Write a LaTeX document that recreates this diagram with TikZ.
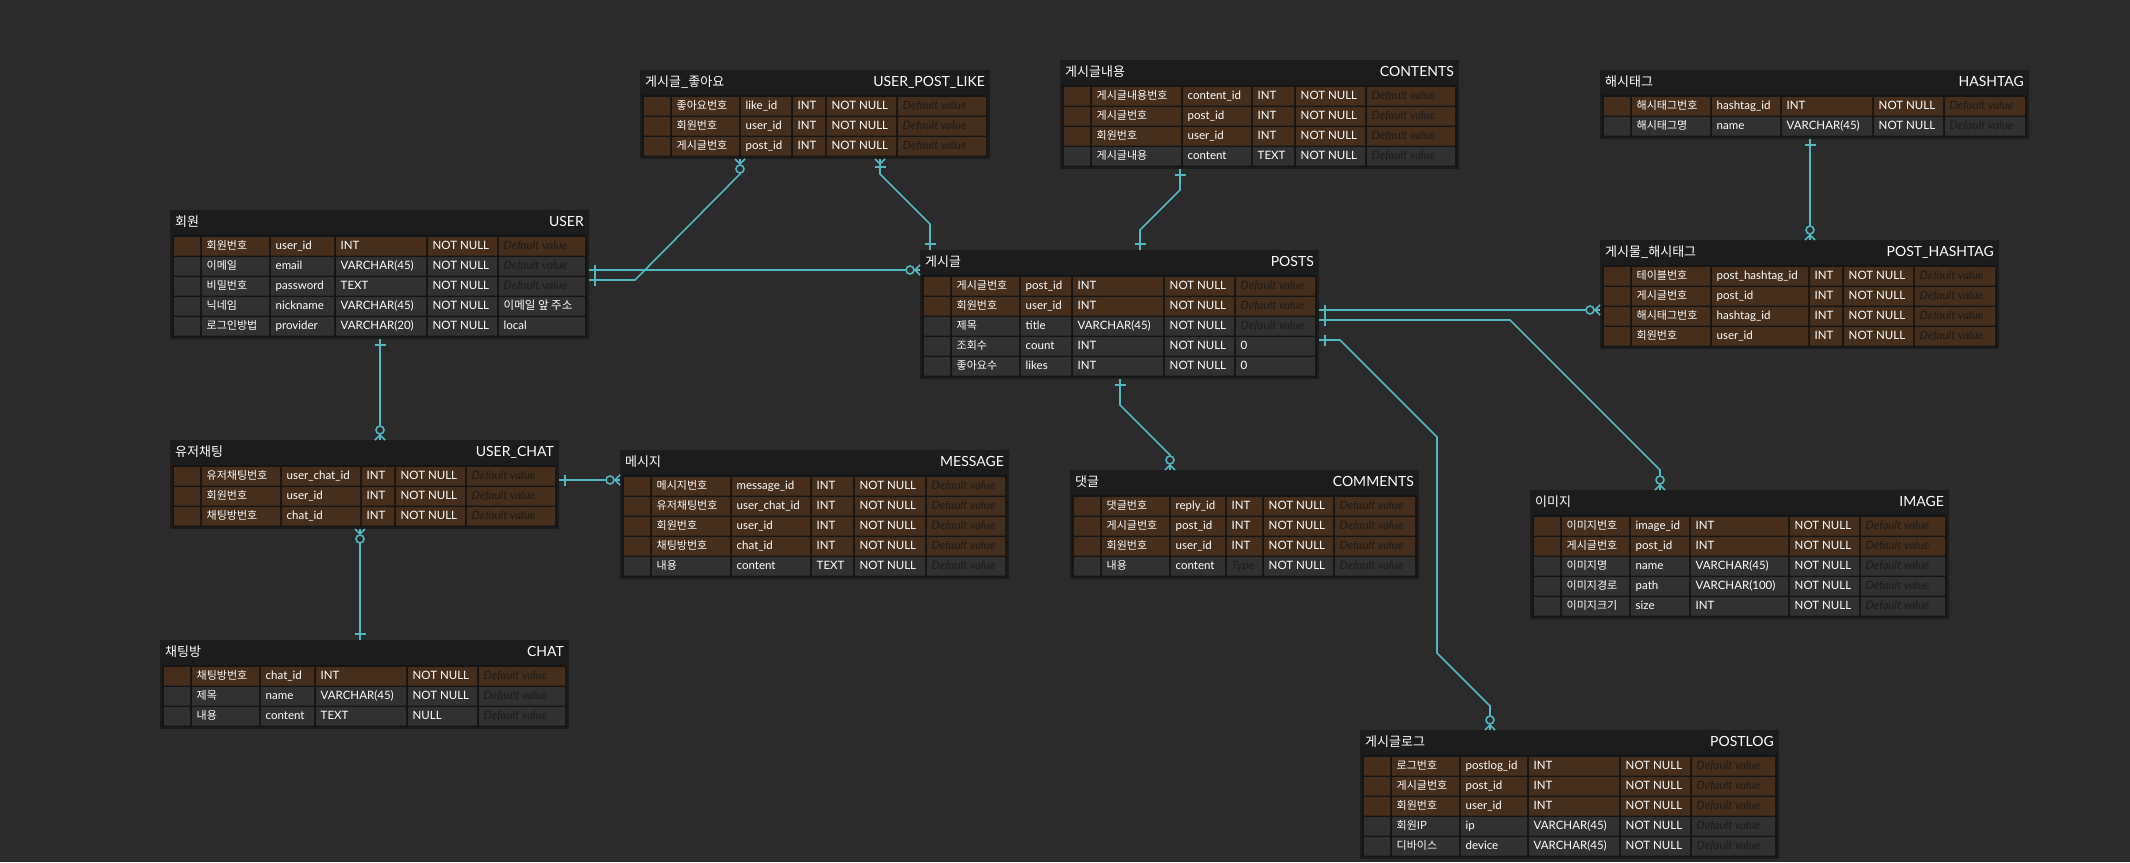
\documentclass[tikz,border=0pt]{standalone}
\usepackage{fontspec}
\setmainfont{Lato}
\newfontfamily\kr{Noto Sans CJK KR}
\usetikzlibrary{calc}
\definecolor{Canvas}{HTML}{2B2B2B}
\definecolor{TableBg}{HTML}{1C1C1C}
\definecolor{Panel}{HTML}{151515}
\definecolor{KeyRow}{HTML}{452E1C}
\definecolor{PlainRow}{HTML}{313131}
\definecolor{Link}{HTML}{52B8C4}
\definecolor{DefText}{HTML}{1F1B18}

\newcommand\defval{{\color{DefText}\itshape Default value}}
\newcommand\phtype{{\color{DefText}\itshape Type}}
\def\erdcols#1/#2/#3/#4\relax{\def\colA{#1}\def\colB{#2}\def\colC{#3}\def\colD{#4}}
% #1 name, #2 x0, #3 y0, #4 x1, #5 column starts, #6 korean title, #7 table name, #8 rows
\newcommand\erdtable[8]{%
  \erdcols#5\relax
  \foreach \rowitem [count=\j] in {#8} {\xdef\nrows{\j}}%
  \pgfmathsetmacro\tabw{#4-#2}%
  \pgfmathsetmacro\tabh{29+20*\nrows}%
  \node[tablebox, minimum width={\tabw pt}, minimum height={\tabh pt}] (#1) at (#2,#3) {};
  \fill[Panel] (#2+2,#3+25) rectangle (#4-2,#3+\tabh-2);
  \node[titlekr] at (#2+5,#3+16) {#6};
  \node[titleen] at (#4-5,#3+16) {#7};
  \foreach \rk/\rko/\rnm/\rty/\rnl/\rdf [count=\i] in {#8} {
    \pgfmathsetmacro\yt{#3+27+20*(\i-1)}
    \path[\rk] (#2+4,\yt) rectangle (#2+30,\yt+18.7)
      (#2+32,\yt) rectangle (\colA-2,\yt+18.7)
      (\colA,\yt) rectangle (\colB-2,\yt+18.7)
      (\colB,\yt) rectangle (\colC-2,\yt+18.7)
      (\colC,\yt) rectangle (\colD-2,\yt+18.7)
      (\colD,\yt) rectangle (#4-4,\yt+18.7);
    \node[cellkr] at (#2+36.5,\yt+12.3) {\rko};
    \node[cell] at (\colA+4.5,\yt+12.3) {\rnm};
    \node[cell] at (\colB+4.5,\yt+12.3) {\rty};
    \node[cell] at (\colC+4.5,\yt+12.3) {\rnl};
    \node[cell] at (\colD+4.5,\yt+12.3) {\rdf};
  }
}

\begin{document}
\begin{tikzpicture}[x=1pt, y=-1pt]
  \tikzstyle{tablebox}=[anchor=north west, fill=TableBg, inner sep=0pt, outer sep=0pt]
  \tikzstyle{cell}=[anchor=base west, inner sep=0pt, text=white, font=\fontsize{11.5}{13}\selectfont]
  \tikzstyle{cellkr}=[cell, font=\kr\fontsize{11}{13}\selectfont]
  \tikzstyle{titlekr}=[anchor=base west, inner sep=0pt, text=white, font=\kr\fontsize{13}{15}\selectfont]
  \tikzstyle{titleen}=[anchor=base east, inner sep=0pt, text=white, font=\fontsize{14}{16}\selectfont]
  \tikzstyle{K}=[fill=KeyRow]
  \tikzstyle{F}=[fill=PlainRow]
  \tikzstyle{rel}=[draw=Link, line width=1.6pt]
  \tikzset{
    one/.pic={\draw[rel] (6,-5.5) -- (6,5.5);},
    zmany/.pic={\draw[rel] (0,-5) -- (5,0) -- (0,5); \draw[rel, fill=Canvas] (10,0) circle (4pt);},
    omany/.pic={\draw[rel] (0,-5) -- (5,0) -- (0,5); \draw[rel] (8,-5.5) -- (8,5.5);}
  }
  \fill[Canvas] (0,0) rectangle (2130,862);
  \useasboundingbox (0,0) rectangle (2130,862);

  % tables
  \erdtable{uplike}{640}{70}{990}{741/793/827/898}{게시글\_좋아요}{USER\_POST\_LIKE}{
    K/좋아요번호/like\_id/INT/NOT NULL/\defval,
    K/회원번호/user\_id/INT/NOT NULL/\defval,
    K/게시글번호/post\_id/INT/NOT NULL/\defval}
  \erdtable{contents}{1060}{60}{1459}{1183/1253/1296/1367}{게시글내용}{CONTENTS}{
    K/게시글내용번호/content\_id/INT/NOT NULL/\defval,
    K/게시글번호/post\_id/INT/NOT NULL/\defval,
    K/회원번호/user\_id/INT/NOT NULL/\defval,
    F/게시글내용/content/TEXT/NOT NULL/\defval}
  \erdtable{hashtag}{1600}{70}{2029}{1712/1782/1874/1945}{해시태그}{HASHTAG}{
    K/해시태그번호/hashtag\_id/INT/NOT NULL/\defval,
    F/해시태그명/name/VARCHAR(45)/NOT NULL/\defval}
  \erdtable{user}{170}{210}{589}{271/336/428/499}{회원}{USER}{
    K/회원번호/user\_id/INT/NOT NULL/\defval,
    F/이메일/email/VARCHAR(45)/NOT NULL/\defval,
    F/비밀번호/password/TEXT/NOT NULL/\defval,
    F/닉네임/nickname/VARCHAR(45)/NOT NULL/{\kr 이메일 앞 주소},
    F/로그인방법/provider/VARCHAR(20)/NOT NULL/local}
  \erdtable{posts}{920}{250}{1319}{1021/1073/1165/1236}{게시글}{POSTS}{
    K/게시글번호/post\_id/INT/NOT NULL/\defval,
    K/회원번호/user\_id/INT/NOT NULL/\defval,
    F/제목/title/VARCHAR(45)/NOT NULL/\defval,
    F/조회수/count/INT/NOT NULL/0,
    F/좋아요수/likes/INT/NOT NULL/0}
  \erdtable{posthashtag}{1600}{240}{1999}{1712/1810/1844/1915}{게시물\_해시태그}{POST\_HASHTAG}{
    K/테이블번호/post\_hashtag\_id/INT/NOT NULL/\defval,
    K/게시글번호/post\_id/INT/NOT NULL/\defval,
    K/해시태그번호/hashtag\_id/INT/NOT NULL/\defval,
    K/회원번호/user\_id/INT/NOT NULL/\defval}
  \erdtable{userchat}{170}{440}{559}{282/362/396/467}{유저채팅}{USER\_CHAT}{
    K/유저채팅번호/user\_chat\_id/INT/NOT NULL/\defval,
    K/회원번호/user\_id/INT/NOT NULL/\defval,
    K/채팅방번호/chat\_id/INT/NOT NULL/\defval}
  \erdtable{message}{620}{450}{1009}{732/812/855/927}{메시지}{MESSAGE}{
    K/메시지번호/message\_id/INT/NOT NULL/\defval,
    K/유저채팅번호/user\_chat\_id/INT/NOT NULL/\defval,
    K/회원번호/user\_id/INT/NOT NULL/\defval,
    K/채팅방번호/chat\_id/INT/NOT NULL/\defval,
    F/내용/content/TEXT/NOT NULL/\defval}
  \erdtable{comments}{1070}{470}{1419}{1171/1227/1264/1335}{댓글}{COMMENTS}{
    K/댓글번호/reply\_id/INT/NOT NULL/\defval,
    K/게시글번호/post\_id/INT/NOT NULL/\defval,
    K/회원번호/user\_id/INT/NOT NULL/\defval,
    F/내용/content/\phtype/NOT NULL/\defval}
  \erdtable{image}{1530}{490}{1949}{1631/1691/1790/1861}{이미지}{IMAGE}{
    K/이미지번호/image\_id/INT/NOT NULL/\defval,
    K/게시글번호/post\_id/INT/NOT NULL/\defval,
    F/이미지명/name/VARCHAR(45)/NOT NULL/\defval,
    F/이미지경로/path/VARCHAR(100)/NOT NULL/\defval,
    F/이미지크기/size/INT/NOT NULL/\defval}
  \erdtable{chat}{160}{640}{569}{261/316/408/479}{채팅방}{CHAT}{
    K/채팅방번호/chat\_id/INT/NOT NULL/\defval,
    F/제목/name/VARCHAR(45)/NOT NULL/\defval,
    F/내용/content/TEXT/NULL/\defval}
  \erdtable{postlog}{1360}{730}{1779}{1461/1529/1621/1692}{게시글로그}{POSTLOG}{
    K/로그번호/postlog\_id/INT/NOT NULL/\defval,
    K/게시글번호/post\_id/INT/NOT NULL/\defval,
    K/회원번호/user\_id/INT/NOT NULL/\defval,
    F/회원IP/ip/VARCHAR(45)/NOT NULL/\defval,
    F/디바이스/device/VARCHAR(45)/NOT NULL/\defval}

  % relations
  \coordinate (ua) at ($(user.north east)+(0,60)$);
  \coordinate (ub) at ($(user.north east)+(0,70)$);
  \coordinate (lb) at ($(uplike.south west)+(100,0)$);
  \coordinate (lc) at ($(uplike.south west)+(240,0)$);
  \coordinate (pc) at ($(posts.north west)+(10,0)$);
  \coordinate (cd) at ($(contents.south west)+(120,0)$);
  \coordinate (pd) at ($(posts.north west)+(220,0)$);
  \coordinate (he) at ($(hashtag.south west)+(210,0)$);
  \coordinate (pf) at ($(posts.north east)+(0,60)$);
  \coordinate (pg) at ($(posts.north east)+(0,70)$);
  \coordinate (ig) at ($(image.north west)+(130,0)$);
  \coordinate (ph) at ($(posts.north east)+(0,90)$);
  \coordinate (lh) at ($(postlog.north west)+(130,0)$);
  \coordinate (pi) at ($(posts.south west)+(200,0)$);
  \coordinate (ci) at ($(comments.north west)+(100,0)$);
  \coordinate (uj) at ($(user.south west)+(210,0)$);
  \coordinate (uk) at ($(userchat.north east)+(0,40)$);
  \coordinate (ul) at ($(userchat.south west)+(190,0)$);

  \draw[rel] (ua) -- (ua -| posts.west);
  \draw[rel] (ub) -- ++(46,0) -- ($(lb)+(0,15)$) -- (lb);
  \draw[rel] (lc) -- ++(0,15) -- ($(pc)+(0,-26)$) -- (pc);
  \draw[rel] (cd) -- ++(0,21) -- ($(pd)+(0,-20)$) -- (pd);
  \draw[rel] (he) -- (he |- posthashtag.north);
  \draw[rel] (pf) -- (pf -| posthashtag.west);
  \draw[rel] (pg) -- ++(191,0) -- ($(ig)+(0,-20)$) -- (ig);
  \draw[rel] (ph) -- ++(21,0) -- ++(97,97) -- ($(lh)+(-53,-77)$) -- ($(lh)+(0,-24)$) -- (lh);
  \draw[rel] (pi) -- ++(0,26) -- ($(ci)+(0,-15)$) -- (ci);
  \draw[rel] (uj) -- (uj |- userchat.north);
  \draw[rel] (uk) -- (uk -| message.west);
  \draw[rel] (ul) -- (ul |- chat.north);

  % end marks
  \pic at (ua) {one};
  \pic[rotate=180] at (ua -| posts.west) {zmany};
  \pic at (ub) {one};
  \pic[rotate=-90] at (lb) {zmany};
  \pic[rotate=-90] at (lc) {omany};
  \pic[rotate=90] at (pc) {one};
  \pic[rotate=-90] at (cd) {one};
  \pic[rotate=90] at (pd) {one};
  \pic[rotate=-90] at (he) {one};
  \pic[rotate=90] at (he |- posthashtag.north) {zmany};
  \pic at (pf) {one};
  \pic[rotate=180] at (pf -| posthashtag.west) {zmany};
  \pic at (pg) {one};
  \pic[rotate=90] at (ig) {zmany};
  \pic at (ph) {one};
  \pic[rotate=90] at (lh) {zmany};
  \pic[rotate=-90] at (pi) {one};
  \pic[rotate=90] at (ci) {zmany};
  \pic[rotate=-90] at (uj) {one};
  \pic[rotate=90] at (uj |- userchat.north) {zmany};
  \pic at (uk) {one};
  \pic[rotate=180] at (uk -| message.west) {zmany};
  \pic[rotate=-90] at (ul) {zmany};
  \pic[rotate=90] at (ul |- chat.north) {one};
\end{tikzpicture}
\end{document}
